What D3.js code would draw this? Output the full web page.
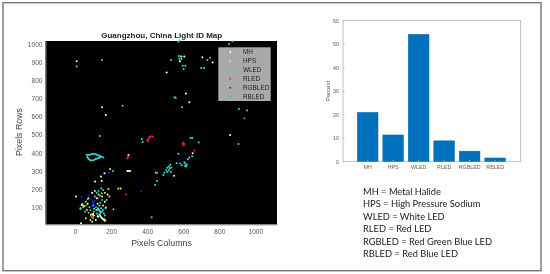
<!DOCTYPE html>
<html>
<head>
<meta charset="utf-8">
<script src="https://cdn.jsdelivr.net/npm/d3@7"></script>
<style>
  html, body { margin: 0; padding: 0; background: #fff; }
  svg { display: block; filter: blur(0.35px); }
  text { font-family: "Liberation Sans", Arial, sans-serif; }
</style>
</head>
<body>
<svg width="550" height="274"></svg>
<script>
// Light map points, [column, row]
const mhPoints = [[9,906],[508,844],[582,906],[606,932],[590,932],[706,928],[763,899],[615,728],[634,680],[150,652],[170,610],[860,499],[296,389],[290,300],[298,300],[305,300],[549,274],[111,242],[148,245],[144,270],[163,288],[652,398],[5,159],[33,12],[100,55],[115,30],[125,50],[135,60],[145,45],[160,30],[165,25],[155,35],[130,90],[95,180],[120,150],[70,120],[165,130],[180,170],[128,48],[140,52],[150,40]];
const hpsPoints = [[194,312],[240,203],[253,203],[185,201],[90,60],[95,52],[100,65],[105,55],[85,30],[60,40],[160,35],[168,28],[40,118],[50,105],[30,95],[65,85],[130,170],[150,160],[165,180],[125,120],[155,110],[75,150],[110,190],[140,75],[170,100],[95,20],[190,160],[88,58],[98,60],[92,48],[36,112],[45,110]];
const wledPoints = [[9,877],[150,913],[573,1015],[580,1022],[872,1016],[854,1002],[532,913],[575,935],[585,932],[578,920],[590,918],[597,882],[612,882],[602,864],[699,869],[715,869],[734,913],[749,925],[551,707],[558,704],[593,652],[264,661],[909,643],[954,634],[137,494],[370,477],[375,460],[640,483],[650,483],[686,457],[906,450],[65,390],[72,388],[80,390],[88,392],[95,394],[103,395],[110,393],[118,391],[125,388],[133,385],[140,382],[148,379],[157,375],[68,378],[72,370],[78,365],[85,360],[92,358],[100,360],[108,363],[115,366],[122,369],[130,372],[138,375],[444,223],[455,245],[447,291],[455,291],[490,278],[495,292],[505,305],[512,318],[520,325],[528,335],[520,305],[532,295],[512,295],[525,315],[535,320],[564,343],[583,342],[592,332],[606,348],[612,340],[616,325],[620,335],[610,328],[625,365],[634,375],[650,382],[573,395],[425,45],[213,89],[210,300],[60,130],[70,145],[80,100],[100,110],[115,100],[125,85],[135,110],[145,95],[150,75],[160,65],[170,95],[175,140],[130,190],[145,205],[120,180],[155,195],[30,90],[45,100],[55,75],[110,160],[140,125],[100,40],[120,65],[165,55],[75,70],[135,80],[142,70],[128,95],[118,85],[105,92],[155,85],[148,178],[138,165],[125,150]];
const rledPoints = [[296,380],[290,369],[292,375],[400,470],[406,475],[410,480],[415,490],[425,492],[432,490],[405,465],[597,450],[606,450],[600,458],[603,443],[662,413],[283,170],[92,52],[98,45]];
const rgbledPoints = [[366,190],[407,490],[100,125],[108,135],[95,115],[112,105],[104,118],[98,130],[37,160],[75,165],[185,291],[90,140]];
const rbledPoints = [[939,591],[60,110],[85,85],[105,75],[150,140],[130,60]];

// Bar chart
const barCategories = ["MH", "HPS", "WLED", "RLED", "RGBLED", "RBLED"];
const barValues = [20.8, 11.2, 54, 8.7, 4.3, 1.4];

const xTicks = [0, 200, 400, 600, 800, 1000];
const yTicks = [100, 200, 300, 400, 500, 600, 700, 800, 900, 1000];
const percentTicks = [0, 10, 20, 30, 40, 50, 60];
const notes = [
  "MH = Metal Halide",
  "HPS = High Pressure Sodium",
  "WLED = White LED",
  "RLED = Red LED",
  "RGBLED = Red Green Blue LED",
  "RBLED = Red Blue LED",
];

const svg = d3.select("svg");
const tickColor = "#5a5a5a";

// Outer frame
svg
  .append("rect")
  .attr("x", 3)
  .attr("y", 2.7)
  .attr("width", 538)
  .attr("height", 268)
  .attr("fill", "#fff")
  .attr("stroke", "#777")
  .attr("stroke-width", 1.4);

/**
 * Draws the light id scatter map on the left
 */
function drawMap() {
  const left = 45.5;
  const right = 277;
  const top = 41;
  const bottom = 224.3;

  const xScale = d3.scaleLinear().domain([-164, 1120]).range([left, right]);
  const yScale = d3.scaleLinear().domain([6, 1018]).range([bottom, top]);

  svg
    .append("rect")
    .attr("x", left)
    .attr("y", top)
    .attr("width", right - left)
    .attr("height", bottom - top)
    .attr("fill", "#000");

  const series = [
    { name: "MH", color: "#ffffff", points: mhPoints },
    { name: "HPS", color: "#f4f04a", points: hpsPoints },
    { name: "WLED", color: "#35e0dc", points: wledPoints },
    { name: "RLED", color: "#f0202a", points: rledPoints },
    { name: "RGBLED", color: "#2020e0", points: rgbledPoints },
    { name: "RBLED", color: "#30d050", points: rbledPoints },
  ];

  series.forEach(function (s) {
    svg
      .append("g")
      .selectAll("circle")
      .data(s.points)
      .enter()
      .append("circle")
      .attr("cx", function (d) {
        return xScale(d[0]);
      })
      .attr("cy", function (d) {
        return yScale(d[1]);
      })
      .attr("r", 1)
      .attr("fill", s.color);
  });

  // Axes
  const xAxis = svg
    .append("g")
    .attr("transform", "translate(0," + bottom + ")")
    .call(d3.axisBottom(xScale).tickValues(xTicks).tickFormat(d3.format("d")).tickSize(0).tickPadding(5));
  const yAxis = svg
    .append("g")
    .attr("transform", "translate(" + left + ",0)")
    .call(d3.axisLeft(yScale).tickValues(yTicks).tickFormat(d3.format("d")).tickSize(0).tickPadding(3));
  [xAxis, yAxis].forEach(function (axis) {
    axis.select(".domain").attr("stroke", "#777");
    axis.selectAll("text").attr("fill", tickColor).style("font-size", "6.6px").style("font-family", "Liberation Sans");
  });

  // Legend
  svg
    .append("rect")
    .attr("x", 218.3)
    .attr("y", 47.3)
    .attr("width", 52.4)
    .attr("height", 53.7)
    .attr("fill", "#a9a9a9");
  const legendY = d3.scalePoint().domain(series.map((s) => s.name)).range([52, 96.7]);
  series.forEach(function (s) {
    svg
      .append("circle")
      .attr("cx", 230.3)
      .attr("cy", legendY(s.name))
      .attr("r", 0.9)
      .attr("fill", s.color);
    svg
      .append("text")
      .attr("x", 243)
      .attr("y", legendY(s.name) + 2.3)
      .attr("fill", "#222")
      .style("font-size", "6.4px")
      .text(s.name);
  });

  // Title and labels
  svg
    .append("text")
    .attr("x", 161.7)
    .attr("y", 38)
    .attr("text-anchor", "middle")
    .attr("fill", "#222")
    .style("font-size", "8px")
    .style("font-weight", "bold")
    .text("Guangzhou, China Light ID Map");
  svg
    .append("text")
    .attr("x", 161.5)
    .attr("y", 246)
    .attr("text-anchor", "middle")
    .attr("fill", "#444")
    .style("font-size", "8.8px")
    .text("Pixels Columns");
  svg
    .append("text")
    .attr("text-anchor", "middle")
    .attr("transform", "translate(22,132)rotate(-90)")
    .attr("fill", "#444")
    .style("font-size", "8.8px")
    .text("Pixels Rows");
}

/**
 * Draws the percent bar chart on the right
 */
function drawBars() {
  const left = 343;
  const right = 520.7;
  const top = 20.3;
  const bottom = 161.3;

  const xScale = d3.scaleBand().domain(barCategories).range([352.5, 510.3]).padding(0.19);
  const yScale = d3.scaleLinear().domain([0, 60]).range([bottom, top]);

  // Box around the plot
  svg
    .append("rect")
    .attr("x", left)
    .attr("y", top)
    .attr("width", right - left)
    .attr("height", bottom - top)
    .attr("fill", "none")
    .attr("stroke", "#aaa")
    .attr("stroke-width", 0.7);

  svg
    .append("g")
    .selectAll("rect")
    .data(barValues)
    .enter()
    .append("rect")
    .attr("x", function (d, i) {
      return xScale(barCategories[i]);
    })
    .attr("y", function (d) {
      return yScale(d);
    })
    .attr("width", xScale.bandwidth())
    .attr("height", function (d) {
      return bottom - yScale(d);
    })
    .attr("fill", "#0072bd")
    .attr("stroke", "#00609f")
    .attr("stroke-width", 0.5);

  const xAxis = svg
    .append("g")
    .attr("transform", "translate(0," + bottom + ")")
    .call(d3.axisBottom(xScale).tickSizeInner(-1.5).tickSizeOuter(0).tickPadding(4));
  const yAxis = svg
    .append("g")
    .attr("transform", "translate(" + left + ",0)")
    .call(d3.axisLeft(yScale).tickValues(percentTicks).tickSizeInner(-1.5).tickSizeOuter(0).tickPadding(4));
  [xAxis, yAxis].forEach(function (axis) {
    axis.select(".domain").attr("stroke", "none");
    axis.selectAll("line").attr("stroke", "#aaa");
    axis.selectAll("text").attr("fill", tickColor).style("font-size", "5.3px").style("font-family", "Liberation Sans");
  });

  svg
    .append("text")
    .attr("text-anchor", "middle")
    .attr("transform", "translate(330,91)rotate(-90)")
    .attr("fill", "#555")
    .style("font-size", "5.8px")
    .text("Percent");

  // Abbreviation list under the bars
  const noteY = d3.scalePoint().domain(notes).range([194.5, 257]);
  svg
    .append("g")
    .selectAll("text")
    .data(notes)
    .enter()
    .append("text")
    .attr("x", 363)
    .attr("y", (d) => noteY(d))
    .attr("fill", "#222")
    .style("font-family", "Lato")
    .style("font-size", "9.3px")
    .text((d) => d);
}

drawMap();
drawBars();
</script>
</body>
</html>
